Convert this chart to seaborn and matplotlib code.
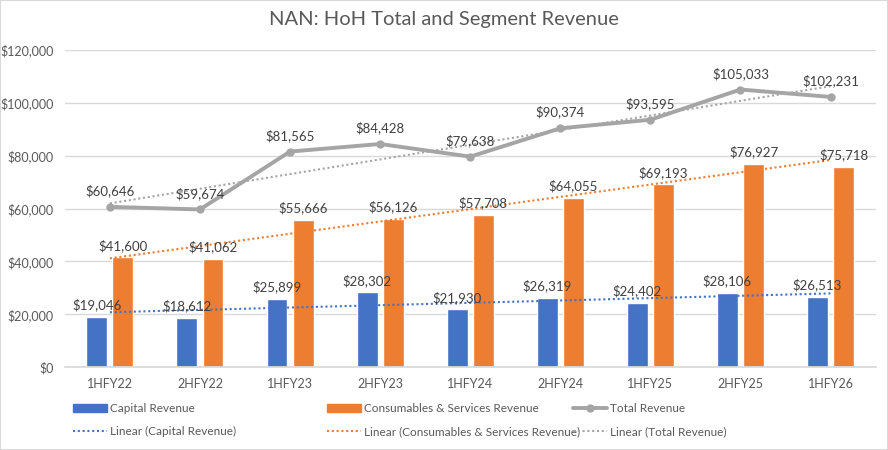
import numpy as np
import pandas as pd
import matplotlib
matplotlib.use("Agg")
import matplotlib.pyplot as plt
import seaborn as sns
from matplotlib.lines import Line2D
from matplotlib.patches import Patch, Rectangle
from matplotlib.ticker import FuncFormatter

periods = ["1HFY22", "2HFY22", "1HFY23", "2HFY23", "1HFY24",
           "2HFY24", "1HFY25", "2HFY25", "1HFY26"]
capital = [19046, 18612, 25899, 28302, 21930, 26319, 24402, 28106, 26513]
consumables = [41600, 41062, 55666, 56126, 57708, 64055, 69193, 76927, 75718]
total = [60646, 59674, 81565, 84428, 79638, 90374, 93595, 105033, 102231]

BLUE, ORANGE, GREY = "#4472C4", "#ED7D31", "#A5A5A5"
TXT, LBL = "#595959", "#404040"

sns.set_theme(style="white")
plt.rcParams["font.family"] = ["Lato", "DejaVu Sans"]

long = pd.DataFrame({
    "period": periods * 2,
    "segment": ["Capital Revenue"] * 9 + ["Consumables & Services Revenue"] * 9,
    "revenue": capital + consumables,
})

fig = plt.figure(figsize=(8.88, 4.5), dpi=100)
ax = fig.add_axes([0.073, 0.184, 0.913, 0.705])

sns.barplot(data=long, x="period", y="revenue", hue="segment", order=periods,
            palette=[BLUE, ORANGE], width=0.58, gap=0.2, saturation=1,
            legend=False, ax=ax, zorder=2)

xs = np.arange(len(periods))
sns.lineplot(x=xs, y=total, color=GREY, linewidth=2.8, marker="o",
             markersize=6, markeredgewidth=0, ax=ax, zorder=4)

# linear trendlines like Excel
dots = (0, (1, 1.3))
for series, col in [(capital, BLUE), (consumables, ORANGE), (total, GREY)]:
    k, b = np.polyfit(xs + 1, series, 1)
    ax.plot(xs, k * (xs + 1) + b, color=col, linestyle=dots,
            linewidth=1.5, zorder=5)

# data labels
off = 0.145
for i in xs:
    ax.annotate(f"${capital[i]:,}", (i - off, capital[i]), xytext=(0, 4),
                textcoords="offset points", ha="center", va="bottom",
                fontsize=9.5, color=LBL, zorder=6)
    ax.annotate(f"${consumables[i]:,}", (i + off, consumables[i]), xytext=(0, 4),
                textcoords="offset points", ha="center", va="bottom",
                fontsize=9.5, color=LBL, zorder=6)
    ax.annotate(f"${total[i]:,}", (i, total[i]), xytext=(0, 7),
                textcoords="offset points", ha="center", va="bottom",
                fontsize=9.5, color=LBL, zorder=6)

ax.set_xlim(-0.5, 8.5)
ax.set_ylim(0, 120000)
ax.set_yticks(range(0, 120001, 20000))
ax.yaxis.set_major_formatter(FuncFormatter(lambda v, _: f"${v:,.0f}"))
ax.grid(axis="y", color="#D9D9D9", linewidth=1, zorder=0)
ax.set_axisbelow(True)
for s in ["top", "right", "left"]:
    ax.spines[s].set_visible(False)
ax.spines["bottom"].set_color("#D9D9D9")
ax.tick_params(axis="both", length=0, labelsize=9, colors=TXT, pad=8)
ax.set_xlabel("")
ax.set_ylabel("")

fig.suptitle("NAN: HoH Total and Segment Revenue", x=0.5, y=0.975,
             fontsize=14.5, color=TXT)

# legend in three columns placed like Excel
lg_groups = [
    [Patch(color=BLUE), "Capital Revenue",
     Line2D([], [], color=BLUE, linestyle=dots, linewidth=1.5),
     "Linear (Capital Revenue)", 73],
    [Patch(color=ORANGE), "Consumables & Services Revenue",
     Line2D([], [], color=ORANGE, linestyle=dots, linewidth=1.5),
     "Linear (Consumables & Services Revenue)", 327],
    [Line2D([], [], color=GREY, linewidth=2.8, marker="o", markersize=6,
            markeredgewidth=0), "Total Revenue",
     Line2D([], [], color=GREY, linestyle=dots, linewidth=1.5),
     "Linear (Total Revenue)", 573],
]
for h1, t1, h2, t2, px in lg_groups:
    fig.legend([h1, h2], [t1, t2], loc="upper left",
               bbox_to_anchor=(px / 888, 1 - 403 / 450), frameon=False,
               fontsize=8.5, labelcolor=TXT, handlelength=2.9,
               handleheight=0.6, handletextpad=0.25, borderpad=0,
               borderaxespad=0, labelspacing=1.0)

fig.patches.append(Rectangle((0, 0), 1, 1, transform=fig.transFigure,
                             fill=False, edgecolor="#D9D9D9", linewidth=1.5))

fig.savefig("out.png", dpi=100)
